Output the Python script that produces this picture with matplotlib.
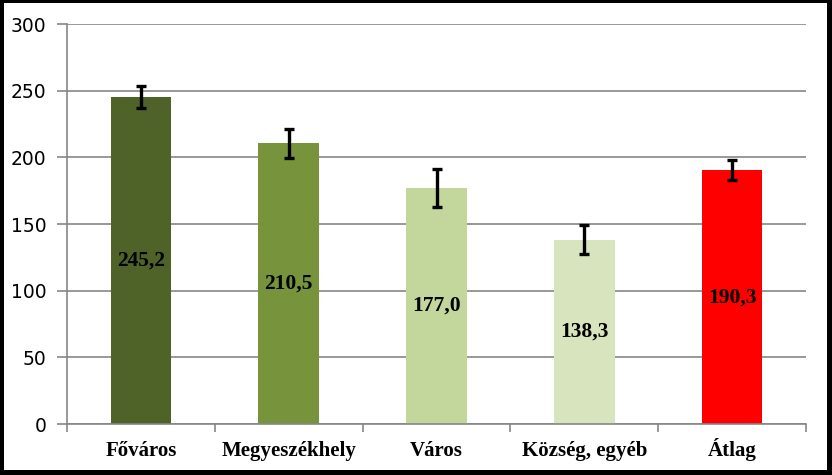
import numpy as np
import matplotlib.pyplot as plt
from matplotlib.patches import Rectangle

# adatok
kategoriak = ['Főváros', 'Megyeszékhely', 'Város', 'Község, egyéb', 'Átlag']
ertekek = [245.2, 210.5, 177.0, 138.3, 190.3]
hibak = [8.5, 11.0, 14.0, 10.8, 7.5]
szinek = ['#4F6228', '#77933C', '#C3D69B', '#D7E4BD', '#FF0000']

fig = plt.figure(figsize=(8.32, 4.75), dpi=100)
fig.patch.set_facecolor('black')
# fehér belső terület (fekete keret)
fig.patches.append(Rectangle((4/832, 5/475), 823/832, 467/475,
                             transform=fig.transFigure, facecolor='white',
                             edgecolor='none', zorder=-10))

ax = fig.add_axes([67/832, 51/475, 739/832, 400/475])
ax.set_facecolor('white')

x = np.arange(len(kategoriak))
ax.bar(x, ertekek, width=0.41, color=szinek, zorder=2)
ax.errorbar(x, ertekek, yerr=hibak, fmt='none', ecolor='black',
            elinewidth=2.4, capsize=3.3, capthick=2.4, zorder=3)

for xi, v in zip(x, ertekek):
    ax.text(xi, v / 2, f'{v:.1f}'.replace('.', ','), ha='center', va='center',
            fontsize=15.5, fontweight='bold', family='Liberation Serif', zorder=4)

ax.set_xlim(-0.5, len(kategoriak) - 0.5)
ax.set_ylim(0, 300)
ax.set_yticks(np.arange(0, 301, 50))
ax.yaxis.grid(True, color='#868686', linewidth=1.2, zorder=1)
ax.set_axisbelow(True)

ax.set_xticks(np.arange(-0.5, len(kategoriak)), minor=False)
ax.set_xticks(x, minor=True)
ax.set_xticklabels([''] * (len(kategoriak) + 1))
ax.set_xticklabels(kategoriak, minor=True, fontsize=15, fontweight='bold',
                   family='Liberation Serif', va='baseline')
ax.tick_params(axis='x', which='major', length=6, color='#868686', width=1.2)
ax.tick_params(axis='x', which='minor', length=0, pad=23)
ax.tick_params(axis='y', length=7, color='#868686', width=1.2, labelsize=13.5,
               pad=8)
for lab in ax.get_yticklabels():
    lab.set_family('DejaVu Sans')

for s in ['top', 'right']:
    ax.spines[s].set_visible(False)
ax.spines['left'].set_color('#868686')
ax.spines['bottom'].set_color('#868686')
ax.spines['left'].set_linewidth(1.2)
ax.spines['bottom'].set_linewidth(1.2)

fig.savefig('out.png', dpi=100, facecolor=fig.get_facecolor())
